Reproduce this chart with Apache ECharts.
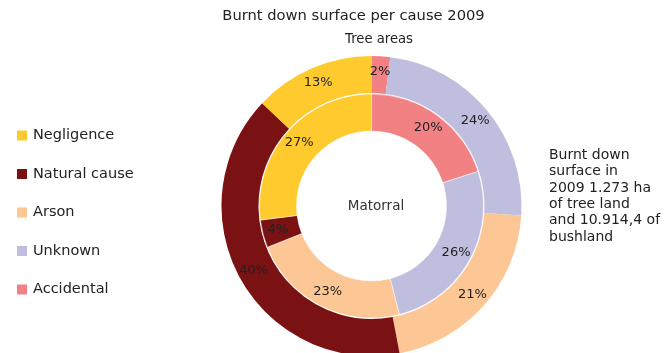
<!DOCTYPE html>
<html>
<head>
<meta charset="utf-8">
<script src="https://cdn.jsdelivr.net/npm/echarts@6/dist/echarts.min.js"></script>
<style>html,body{margin:0;padding:0;background:#fff}#c{width:671px;height:353px}</style>
</head>
<body>
<div id="c"></div>
<script>
const causes = ['Accidental', 'Unknown', 'Arson', 'Natural cause', 'Negligence'];
const legendOrder = ['Negligence', 'Natural cause', 'Arson', 'Unknown', 'Accidental'];
const colors = ['#F28184', '#BFBEDE', '#FCC794', '#7A1214', '#FFCA2E'];
const treeAreas = [2, 24, 21, 40, 13];
const matorral = [20, 26, 23, 4, 27];
const titleText = 'Burnt down surface per cause 2009';
const outerLabel = 'Tree areas';
const innerLabel = 'Matorral';
const noteLines = ['Burnt down', 'surface in', '2009 1.273 ha', 'of tree land', 'and 10.914,4 of', 'bushland'];

const FONT = '"DejaVu Sans", sans-serif';
const chart = echarts.init(document.getElementById('c'), null, {renderer: 'canvas'});
function mk(vals) {
  return causes.map((n, i) => ({name: n, value: vals[i], itemStyle: {color: colors[i]}}));
}
const labelStyle = {show: true, position: 'inside', formatter: '{c}%', color: '#222', fontSize: 13, fontFamily: FONT};
chart.setOption({
  animation: false,
  title: {text: titleText, left: 348.5, top: 4, textAlign: 'center',
    textStyle: {fontSize: 14.7, fontWeight: 'normal', color: '#222', fontFamily: FONT}},
  legend: {orient: 'vertical', left: 10, top: 123, itemWidth: 12, itemHeight: 12, itemGap: 23.5,
    icon: 'rect', data: legendOrder,
    textStyle: {fontSize: 14.5, color: '#222', fontFamily: FONT}},
  graphic: [
    {type: 'text', x: 379, y: 40, style: {text: outerLabel, fill: '#222', font: '13.2px ' + FONT, align: 'center', verticalAlign: 'middle'}},
    {type: 'text', x: 376, y: 206, style: {text: innerLabel, fill: '#333', font: '13.5px ' + FONT, align: 'center', verticalAlign: 'middle'}},
    {type: 'text', x: 549, y: 147, style: {text: noteLines.join('\n'), fill: '#222', font: '14px ' + FONT, lineHeight: 16.4}}
  ],
  series: [
    {type: 'pie', center: [371.5, 206], radius: [75, 112], startAngle: 90, clockwise: true,
      label: labelStyle, labelLine: {show: false}, silent: true,
      itemStyle: {borderColor: '#fff', borderWidth: 0.5},
      data: mk(matorral)},
    {type: 'pie', center: [371.5, 206], radius: [113, 150], startAngle: 90, clockwise: true,
      label: labelStyle, labelLine: {show: false}, silent: true,
      data: mk(treeAreas)}
  ]
});
</script>
</body>
</html>
